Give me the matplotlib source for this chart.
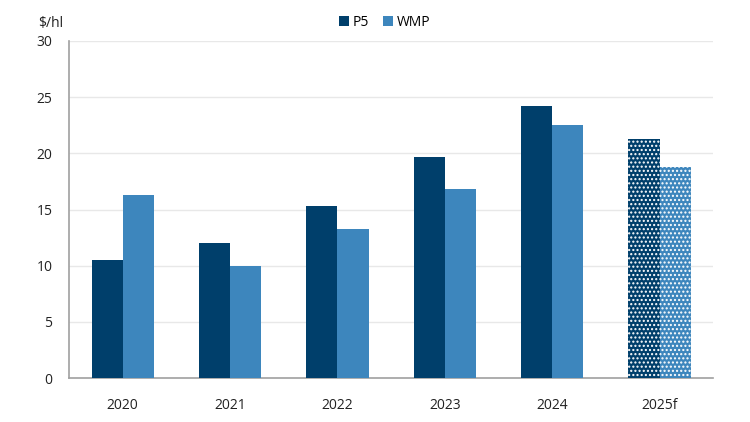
import numpy as np
import matplotlib
matplotlib.use("Agg")
import matplotlib.pyplot as plt

# ================================
# DATA
# ================================
anos = ["2020", "2021", "2022", "2023", "2024", "2025f"]
p5 = [10.5, 12.0, 15.35, 19.7, 24.2, 21.3]
wmp = [16.3, 10.0, 13.3, 16.8, 22.5, 18.8]
previsao = [False, False, False, False, False, True]

COR_P5 = "#003f6b"
COR_WMP = "#3d86bd"

plt.rcParams["font.family"] = ["Open Sans", "DejaVu Sans"]
plt.rcParams["hatch.linewidth"] = 1.0

fig = plt.figure(figsize=(7.5, 4.22), dpi=100)
ax = fig.add_axes([0.092, 0.104, 0.859, 0.799])

x = np.arange(len(anos))
w = 0.29

for i in range(len(anos)):
    hatch = "...." if previsao[i] else None
    ec = "white" if previsao[i] else "none"
    ax.bar(x[i] - w / 2, p5[i], w, color=COR_P5, edgecolor=ec, linewidth=0,
           hatch=hatch, zorder=3, label="P5" if i == 0 else None)
    ax.bar(x[i] + w / 2, wmp[i], w, color=COR_WMP, edgecolor=ec, linewidth=0,
           hatch=hatch, zorder=3, label="WMP" if i == 0 else None)

ax.set_xlim(-0.5, len(anos) - 0.5)
ax.set_ylim(0, 30)
ax.set_yticks(range(0, 31, 5))
ax.set_xticks(x)
ax.set_xticklabels(anos)
ax.tick_params(length=0, labelsize=10, colors="#222222")
ax.tick_params(axis="x", pad=14)
ax.tick_params(axis="y", pad=12)

ax.grid(axis="y", color="#e8e8e8", linewidth=1, zorder=0)
for s in ["top", "right"]:
    ax.spines[s].set_visible(False)
ax.spines["left"].set_color("#a0a0a0")
ax.spines["bottom"].set_color("#a0a0a0")
ax.spines["left"].set_linewidth(1.2)
ax.spines["bottom"].set_linewidth(1.2)

fig.text(0.067, 0.945, "$/hl", ha="center", va="center", fontsize=10,
         color="#222222")

ax.legend(loc="center", bbox_to_anchor=(0.49, 1.055), ncol=2, frameon=False,
          fontsize=10, handlelength=0.7, handleheight=0.7, handletextpad=0.3,
          columnspacing=1.0)

fig.savefig("out.png", dpi=100)
